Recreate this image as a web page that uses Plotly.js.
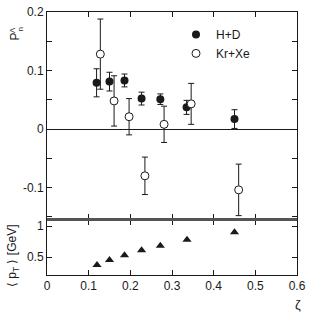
<!DOCTYPE html>
<html><head><meta charset="utf-8">
<script src="https://cdn.plot.ly/plotly-3.0.1.min.js"></script>
<style>html,body{margin:0;padding:0;background:#fff}</style>
</head><body>
<div id="chart" style="width:312px;height:313px"></div>
<script>
// H+D (filled circles)
var hdZeta = [0.119, 0.150, 0.186, 0.227, 0.272, 0.335, 0.450];
var hdP    = [0.079, 0.081, 0.083, 0.052, 0.051, 0.037, 0.017];
var hdErr  = [0.024, 0.016, 0.011, 0.011, 0.009, 0.012, 0.016];
// Kr+Xe (open circles)
var kxZeta = [0.128, 0.161, 0.197, 0.235, 0.281, 0.346, 0.460];
var kxP    = [0.128, 0.048, 0.021, -0.080, 0.008, 0.043, -0.104];
var kxErr  = [0.060, 0.043, 0.031, 0.032, 0.031, 0.035, 0.044];
// <pT> (triangles)
var ptZeta = [0.120, 0.150, 0.186, 0.227, 0.272, 0.336, 0.450];
var ptVal  = [0.37, 0.45, 0.53, 0.61, 0.68, 0.78, 0.90];
var legendNames = ['H+D', 'Kr+Xe'];

var ink = '#1a1a1a';
var font = {family: 'Liberation Sans, Arial, sans-serif', size: 12, color: ink};

var traces = [
  {x: hdZeta, y: hdP, type: 'scatter', mode: 'markers', name: legendNames[0],
   xaxis: 'x', yaxis: 'y',
   marker: {symbol: 'circle', size: 8, color: ink},
   error_y: {type: 'data', array: hdErr, visible: true, color: ink, thickness: 1, width: 3}},
  {x: kxZeta, y: kxP, type: 'scatter', mode: 'markers', name: legendNames[1],
   xaxis: 'x', yaxis: 'y',
   marker: {symbol: 'circle', size: 8, color: '#fff', line: {color: ink, width: 1}},
   error_y: {type: 'data', array: kxErr, visible: true, color: ink, thickness: 1, width: 3}},
  {x: ptZeta, y: ptVal, type: 'scatter', mode: 'markers', showlegend: false,
   xaxis: 'x2', yaxis: 'y2',
   marker: {symbol: 'triangle-up', size: 8, color: ink}}
];

var yBreak = (275 - 219.5) / 263;
var axCommon = {showline: true, linecolor: ink, linewidth: 1, mirror: 'ticks',
  ticks: 'inside', ticklen: 5, tickcolor: ink, tickwidth: 1, showgrid: false,
  zeroline: false, tickfont: font};

function px(x) { return (x - 47) / 250; }
function py(y) { return (275 - y) / 263; }
function ann(x, y, text, size, angle) {
  return {xref: 'paper', yref: 'paper', x: px(x), y: py(y), text: text,
    xanchor: 'center', yanchor: 'middle', showarrow: false, textangle: angle || 0,
    font: {family: font.family, size: size, color: ink}};
}

var layout = {
  width: 312, height: 313,
  margin: {l: 47, r: 15, t: 12, b: 38},
  paper_bgcolor: '#fff', plot_bgcolor: '#fff',
  font: font,
  showlegend: true,
  legend: {x: 0.516, y: 0.97, xanchor: 'left', yanchor: 'top', bgcolor: 'rgba(0,0,0,0)',
    font: font, tracegroupgap: 0},
  xaxis: Object.assign({}, axCommon, {domain: [0, 1], range: [0, 0.6], dtick: 0.1,
    anchor: 'y', showticklabels: false, matches: 'x2'}),
  yaxis: Object.assign({}, axCommon, {domain: [(275 - 219) / 263, 1],
    range: [-0.1538, 0.2], tickvals: [-0.1, 0, 0.1, 0.2], ticktext: ['-0.1', '0', '0.1', '0.2'],
    minor: {tickvals: [-0.15, -0.1, -0.05, 0.05, 0.1, 0.15], ticks: 'inside', ticklen: 5, tickcolor: ink},
    zeroline: true, zerolinecolor: ink, zerolinewidth: 1, anchor: 'x'}),
  xaxis2: Object.assign({}, axCommon, {domain: [0, 1], range: [0, 0.6], dtick: 0.1,
    anchor: 'y2', tickvals: [0, 0.1, 0.2, 0.3, 0.4, 0.5, 0.6],
    ticktext: ['0', '0.1', '0.2', '0.3', '0.4', '0.5', '0.6']}),
  yaxis2: Object.assign({}, axCommon, {domain: [0, (275 - 220) / 263],
    range: [0.21, 1.097], tickvals: [0.5, 1], ticktext: ['0.5', '1'], anchor: 'x2'}),
  shapes: [
    {type: 'line', xref: 'paper', yref: 'paper', x0: 0, x1: 1, y0: yBreak, y1: yBreak,
     line: {color: '#555', width: 3}}
  ],
  annotations: [
    ann(15, 36.5, 'P', 12, -90),
    ann(12, 30, 'Λ', 8, -90),
    ann(19.5, 30, 'n', 8, -90),
    ann(13, 256, '⟨ p<sub>T</sub> ⟩ [GeV]', 12, -90),
    ann(298, 304, 'ζ', 13, 0)
  ]
};

Plotly.newPlot('chart', traces, layout, {displayModeBar: false, staticPlot: true});
</script>
</body></html>
